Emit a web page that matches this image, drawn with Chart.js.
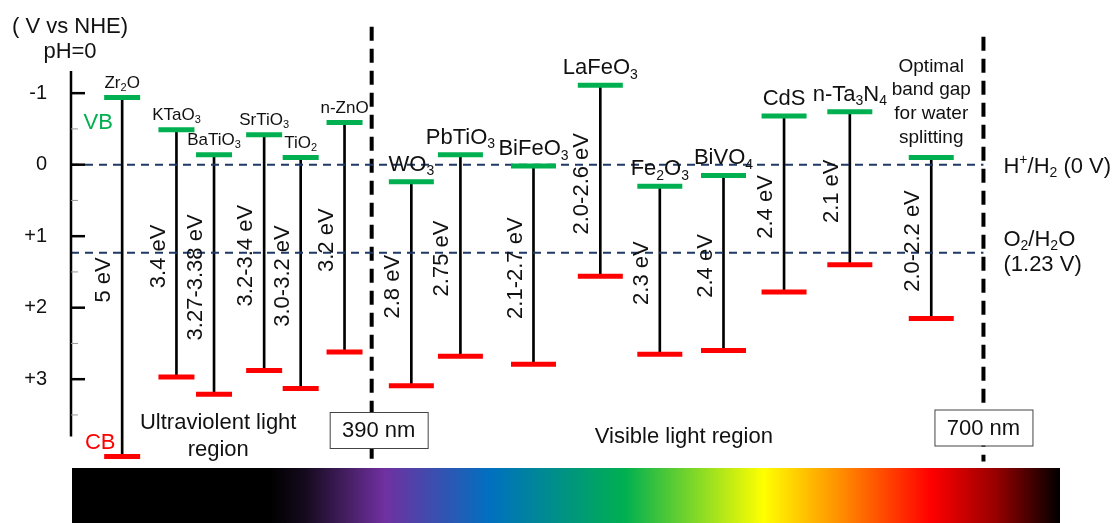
<!DOCTYPE html>
<html>
<head>
<meta charset="utf-8">
<script src="https://cdn.jsdelivr.net/npm/chart.js@4.4.1/dist/chart.umd.min.js"></script>
<style>
  html, body { margin: 0; padding: 0; background: #fff; }
  #wrap { width: 1115px; height: 523px; }
</style>
</head>
<body>
<div id="wrap"><canvas id="bandChart" width="1115" height="523"></canvas></div>
<script>
// band positions (V vs NHE, pH=0)
// "_x" = subscript char, "^x" = superscript char, "\n" = line break
const materials = ['Zr_2O', 'KTaO_3', 'BaTiO_3', 'SrTiO_3', 'TiO_2', 'n-ZnO',
  'WO_3', 'PbTiO_3', 'BiFeO_3', 'LaFeO_3', 'Fe_2O_3', 'BiVO_4', 'CdS', 'n-Ta_3N_4',
  'Optimal\nband gap\nfor water\nsplitting'];
const positions = [4.9, 10.1, 13.7, 18.5, 22.0, 26.2, 32.6, 37.3, 44.3, 50.7, 56.4, 62.5, 68.3, 74.6, 82.4];
const vbLevel = [-0.94, -0.49, -0.14, -0.42, -0.10, -0.59, 0.24, -0.14, 0.02, -1.11, 0.30, 0.15, -0.68, -0.74, -0.10];
const cbLevel = [4.08, 2.97, 3.21, 2.88, 3.13, 2.62, 3.09, 2.68, 2.79, 1.56, 2.65, 2.60, 1.78, 1.40, 2.15];
const gapLabels = ['5 eV', '3.4 eV', '3.27-3.38 eV', '3.2-3.4 eV', '3.0-3.2 eV', '3.2 eV',
  '2.8 eV', '2.75 eV', '2.1-2.7 eV', '2.0-2.6 eV', '2.3 eV', '2.4 eV', '2.4 eV', '2.1 eV', '2.0-2.2 eV'];

const yTickValues = [-1, 0, 1, 2, 3];
const yTickLabels = ['-1', '0', '+1', '+2', '+3'];

const redoxLevels = [0, 1.23];
const redoxLabels = ['H^+/H_2 (0 V)', 'O_2/H_2O\n(1.23 V)'];

const edgePositions = [28.8, 87.4];
const edgeLabels = ['390 nm', '700 nm'];
const edgeTop = [-1.93, -1.79];

const GREEN = '#00B050';
const RED = '#FF0000';
const NAVY = '#203864';
const FONT = "'Liberation Sans', Arial, sans-serif";
const AXIS_END = 3.8;

function font(size) { return size + 'px ' + FONT; }

function richParts(str) {
  const parts = [];
  for (let i = 0; i < str.length; i++) {
    const c = str[i];
    if ((c === '_' || c === '^') && i + 1 < str.length) {
      parts.push({ t: str[i + 1], k: c === '_' ? 'sub' : 'sup' });
      i++;
    } else {
      const last = parts[parts.length - 1];
      if (last && last.k === 'n') last.t += c;
      else parts.push({ t: c, k: 'n' });
    }
  }
  return parts;
}

function drawRich(ctx, str, x, y, size, align, color) {
  const parts = richParts(str);
  const small = Math.round(size * 0.65);
  let total = 0;
  parts.forEach(p => {
    ctx.font = font(p.k === 'n' ? size : small);
    p.w = ctx.measureText(p.t).width;
    total += p.w;
  });
  let cx = align === 'center' ? x - total / 2 : (align === 'right' ? x - total : x);
  ctx.textAlign = 'left';
  ctx.textBaseline = 'middle';
  ctx.fillStyle = color;
  parts.forEach(p => {
    ctx.font = font(p.k === 'n' ? size : small);
    const dy = p.k === 'sub' ? size * 0.3 : (p.k === 'sup' ? -size * 0.3 : 0);
    ctx.fillText(p.t, cx, y + dy);
    cx += p.w;
  });
}

const isUV = i => positions[i] < edgePositions[0];

const overlay = {
  id: 'overlay',
  beforeDraw(chart) {
    const ctx = chart.ctx;
    ctx.save();
    ctx.fillStyle = '#fff';
    ctx.fillRect(0, 0, chart.width, chart.height);
    // light spectrum strip
    const g = ctx.createLinearGradient(72, 0, 1060, 0);
    g.addColorStop(0, '#000000');
    g.addColorStop(0.2, '#000000');
    g.addColorStop(0.235, '#140a1c');
    g.addColorStop(0.316, '#7030A0');
    g.addColorStop(0.423, '#0070C0');
    g.addColorStop(0.56, '#00B050');
    g.addColorStop(0.70, '#FFFF00');
    g.addColorStop(0.776, '#FF9000');
    g.addColorStop(0.869, '#FF0000');
    g.addColorStop(0.934, '#990000');
    g.addColorStop(1, '#000000');
    ctx.fillStyle = g;
    ctx.fillRect(72, 468, 988, 55);
    ctx.restore();
  },
  afterDatasetsDraw(chart) {
    const ctx = chart.ctx;
    const xs = chart.scales.x, ys = chart.scales.y;
    const left = chart.chartArea.left;
    ctx.save();

    // y axis line with inward ticks
    ctx.strokeStyle = '#000';
    ctx.lineWidth = 2.5;
    ctx.beginPath();
    ctx.moveTo(left, ys.getPixelForValue(ys.min));
    ctx.lineTo(left, ys.getPixelForValue(AXIS_END));
    ctx.stroke();
    ys.ticks.forEach(t => {
      if (t.value > AXIS_END) return;
      const py = ys.getPixelForValue(t.value);
      const major = Number.isInteger(t.value);
      ctx.strokeStyle = major ? '#000' : '#999';
      ctx.lineWidth = major ? 2.5 : 1;
      ctx.beginPath();
      ctx.moveTo(left, py);
      ctx.lineTo(left + (major ? 14 : 7), py);
      ctx.stroke();
    });

    // axis caption
    ctx.fillStyle = '#111';
    ctx.font = font(22);
    ctx.textAlign = 'center';
    ctx.textBaseline = 'middle';
    ctx.fillText('( V vs NHE)', 70, 27);
    ctx.fillText('pH=0', 70, 52);
    ctx.fillStyle = GREEN;
    ctx.fillText('VB', xs.getPixelForValue(2.6), ys.getPixelForValue(-0.59));
    ctx.fillStyle = RED;
    ctx.fillText('CB', xs.getPixelForValue(2.8), ys.getPixelForValue(3.89));

    // material names and band gaps
    materials.forEach((m, i) => {
      const px = xs.getPixelForValue(positions[i]);
      const pv = ys.getPixelForValue(vbLevel[i]);
      const lines = m.split('\n');
      if (lines.length > 1) {
        lines.slice().reverse().forEach((ln, k) => {
          drawRich(ctx, ln, px, pv - 20 - k * 23.7, 19, 'center', '#111');
        });
      } else {
        const size = isUV(i) ? 17 : 22;
        drawRich(ctx, m, px, pv - (size * 0.5 + 6), size, 'center', '#111');
      }
      const mid = ys.getPixelForValue((vbLevel[i] + cbLevel[i]) / 2) + 3;
      ctx.save();
      ctx.translate(px - 18, mid);
      ctx.rotate(-Math.PI / 2);
      ctx.fillStyle = '#111';
      ctx.font = font(22);
      ctx.textAlign = 'center';
      ctx.textBaseline = 'middle';
      ctx.fillText(gapLabels[i], 0, 0);
      ctx.restore();
    });

    // redox level labels
    const rx = xs.getPixelForValue(edgePositions[1]) + 20;
    redoxLabels.forEach((lab, i) => {
      const py = ys.getPixelForValue(redoxLevels[i]);
      const lines = lab.split('\n');
      if (lines.length === 1) {
        drawRich(ctx, lines[0], rx, py + 2, 22, 'left', '#111');
      } else {
        drawRich(ctx, lines[0], rx, py - 13, 22, 'left', '#111');
        drawRich(ctx, lines[1], rx, py + 12, 22, 'left', '#111');
      }
    });

    // region texts
    ctx.fillStyle = '#111';
    ctx.font = font(22);
    ctx.textAlign = 'center';
    ctx.textBaseline = 'middle';
    const uvX = xs.getPixelForValue(14.1);
    ctx.fillText('Ultraviolent light', uvX, 423);
    ctx.fillText('region', uvX, 450);
    ctx.fillText('Visible light region', xs.getPixelForValue(58.7), 437);

    // wavelength boxes
    edgeLabels.forEach((lab, i) => {
      const cx = xs.getPixelForValue(edgePositions[i]) + (i === 0 ? 7 : 0);
      const cy = i === 0 ? 430 : 427.5;
      ctx.fillStyle = '#fff';
      ctx.fillRect(cx - 49, cy - 18, 98, 36);
      ctx.strokeStyle = '#444';
      ctx.lineWidth = 1;
      ctx.strokeRect(cx - 49 + 0.5, cy - 18 + 0.5, 98, 36);
      ctx.fillStyle = '#111';
      ctx.font = font(22);
      ctx.fillText(lab, cx, cy + 1);
    });

    ctx.restore();
  }
};

const pointRadius = materials.map((m, i) => isUV(i) ? 18 : 22.5);

const datasets = [
  {
    type: 'bar',
    data: materials.map((m, i) => ({ x: positions[i], y: [vbLevel[i], cbLevel[i]] })),
    backgroundColor: '#000',
    barThickness: 2,
    order: 5
  },
  ...redoxLevels.map(v => ({
    type: 'line',
    data: [{ x: 0, y: v }, { x: edgePositions[1], y: v }],
    borderColor: NAVY,
    borderWidth: 2,
    borderDash: [8, 6],
    pointRadius: 0,
    clip: false,
    order: 4
  })),
  ...edgePositions.map((p, i) => ({
    type: 'line',
    data: [{ x: p, y: edgeTop[i] }, { x: p, y: 4.15 }],
    borderColor: '#000',
    borderWidth: 4,
    borderDash: [14, 8],
    pointRadius: 0,
    clip: false,
    order: 4
  })),
  {
    type: 'scatter',
    data: materials.map((m, i) => ({ x: positions[i], y: cbLevel[i] })),
    pointStyle: 'line',
    pointRadius: pointRadius,
    pointHoverRadius: pointRadius,
    pointBorderColor: RED,
    pointBorderWidth: 5,
    pointHoverBorderWidth: 5,
    clip: false,
    order: 2
  },
  {
    type: 'scatter',
    data: materials.map((m, i) => ({ x: positions[i], y: vbLevel[i] })),
    pointStyle: 'line',
    pointRadius: pointRadius,
    pointHoverRadius: pointRadius,
    pointBorderColor: GREEN,
    pointBorderWidth: 5,
    pointHoverBorderWidth: 5,
    clip: false,
    order: 1
  }
];

const bandChart = new Chart(document.getElementById('bandChart'), {
  type: 'bar',
  data: { datasets: datasets },
  options: {
    responsive: false,
    animation: false,
    events: [],
    layout: { autoPadding: false, padding: { top: 71, bottom: 58, left: 0, right: 0 } },
    plugins: { legend: { display: false }, tooltip: { enabled: false } },
    scales: {
      x: { type: 'linear', min: 0, max: 100, offset: false, display: false },
      y: {
        type: 'linear',
        reverse: true,
        min: -1.31,
        max: 4.2,
        afterFit: s => { s.width = 71; },
        border: { display: false },
        grid: { display: false, drawTicks: false },
        ticks: {
          stepSize: 0.5,
          includeBounds: false,
          padding: 24,
          color: '#111',
          font: { family: FONT, size: 20 },
          callback: v => {
            const k = yTickValues.indexOf(v);
            return k >= 0 ? yTickLabels[k] : '';
          }
        }
      }
    }
  },
  plugins: [overlay]
});
</script>
</body>
</html>
